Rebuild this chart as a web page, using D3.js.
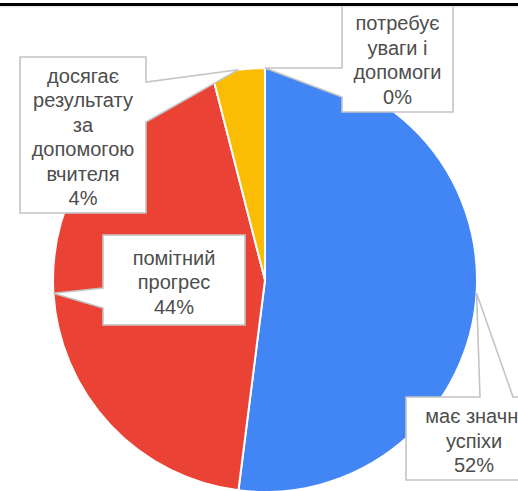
<!DOCTYPE html>
<html>
<head>
<meta charset="utf-8">
<script src="https://cdn.jsdelivr.net/npm/d3@7"></script>
<style>
  html, body { margin: 0; padding: 0; background: #fff; }
  svg { display: block; }
</style>
</head>
<body>
<div id="chart"></div>
<script>
// data
const categories = ["має значні успіхи", "помітний прогрес", "досягає результату за допомогою вчителя", "потребує уваги і допомоги"];
const values = [52, 44, 4, 0];
const colors = ["#4285f4", "#ea4335", "#fbbc04", "#34a853"];
const labelLines = [
    ["має значні", "успіхи", "52%"],
    ["помітний", "прогрес", "44%"],
    ["досягає", "результату", "за", "допомогою", "вчителя", "4%"],
    ["потребує", "уваги і", "допомоги", "0%"]
];

const width = 518, height = 491;
const cx = 265, cy = 280, radius = 212;

// callout boxes: x0,y0,x1,y1, side where pointer attaches, base from/to along that side
const boxes = [
    { x0: 406, y0: 397, x1: 542, y1: 480, side: "top", b0: 480, b1: 513 },
    { x0: 103, y0: 235, x1: 245, y1: 325, side: "left", b0: 288, b1: 308 },
    { x0: 20, y0: 57, x1: 146, y1: 213, side: "right", b0: 82, b1: 122 },
    { x0: 342, y0: 4, x1: 453, y1: 112, side: "left", b0: 68, b1: 97 }
];

const svg = d3.select("#chart")
    .append("svg")
    .attr("width", width)
    .attr("height", height);

const pie = d3.pie().sort(null).value(d => d);
const arcs = pie(values);

const arc = d3.arc().innerRadius(0).outerRadius(radius);
const edge = d3.arc().innerRadius(radius).outerRadius(radius);

const g = svg.append("g").attr("transform", `translate(${cx},${cy})`);

g.selectAll("path")
    .data(arcs.filter(d => d.value > 0))
    .join("path")
    .attr("d", arc)
    .attr("fill", d => colors[d.index])
    .attr("stroke", "#fff")
    .attr("stroke-width", 2);

// callouts
const fontSize = 20, lineH = 24.5;

boxes.forEach((b, i) => {
    const a = arcs[i];
    const mid = edge.centroid(a);
    const tip = [cx + mid[0], cy + mid[1]];

    let pts;
    if (b.side === "top") {
        pts = [[b.x0, b.y0], [b.b0, b.y0], tip, [b.b1, b.y0], [b.x1, b.y0], [b.x1, b.y1], [b.x0, b.y1]];
    } else if (b.side === "left") {
        pts = [[b.x0, b.y0], [b.x1, b.y0], [b.x1, b.y1], [b.x0, b.y1], [b.x0, b.b1], tip, [b.x0, b.b0]];
    } else {
        pts = [[b.x0, b.y0], [b.x1, b.y0], [b.x1, b.b0], tip, [b.x1, b.b1], [b.x1, b.y1], [b.x0, b.y1]];
    }

    svg.append("path")
        .attr("d", d3.line()(pts) + "Z")
        .attr("fill", "#fff")
        .attr("stroke", "#c4c4c4")
        .attr("stroke-width", 1.6)
        .attr("stroke-linejoin", "miter");

    const lines = labelLines[i];
    const tx = (b.x0 + b.x1) / 2;
    const ty = (b.y0 + b.y1) / 2 + 2;
    const text = svg.append("text")
        .attr("text-anchor", "middle")
        .attr("font-family", "Liberation Sans, Arial, sans-serif")
        .attr("font-size", fontSize)
        .attr("fill", "#4d4d4d");
    lines.forEach((l, j) => {
        text.append("tspan")
            .attr("x", tx)
            .attr("y", ty + (j - (lines.length - 1) / 2) * lineH + fontSize * 0.35)
            .text(l);
    });
});

// top frame line
svg.append("rect").attr("x", 0).attr("y", 3).attr("width", width).attr("height", 3).attr("fill", "#000");
svg.append("line").attr("x1", 0).attr("x2", width).attr("y1", 6.8).attr("y2", 6.8)
    .attr("stroke", "#ddd").attr("stroke-width", 1);
</script>
</body>
</html>
